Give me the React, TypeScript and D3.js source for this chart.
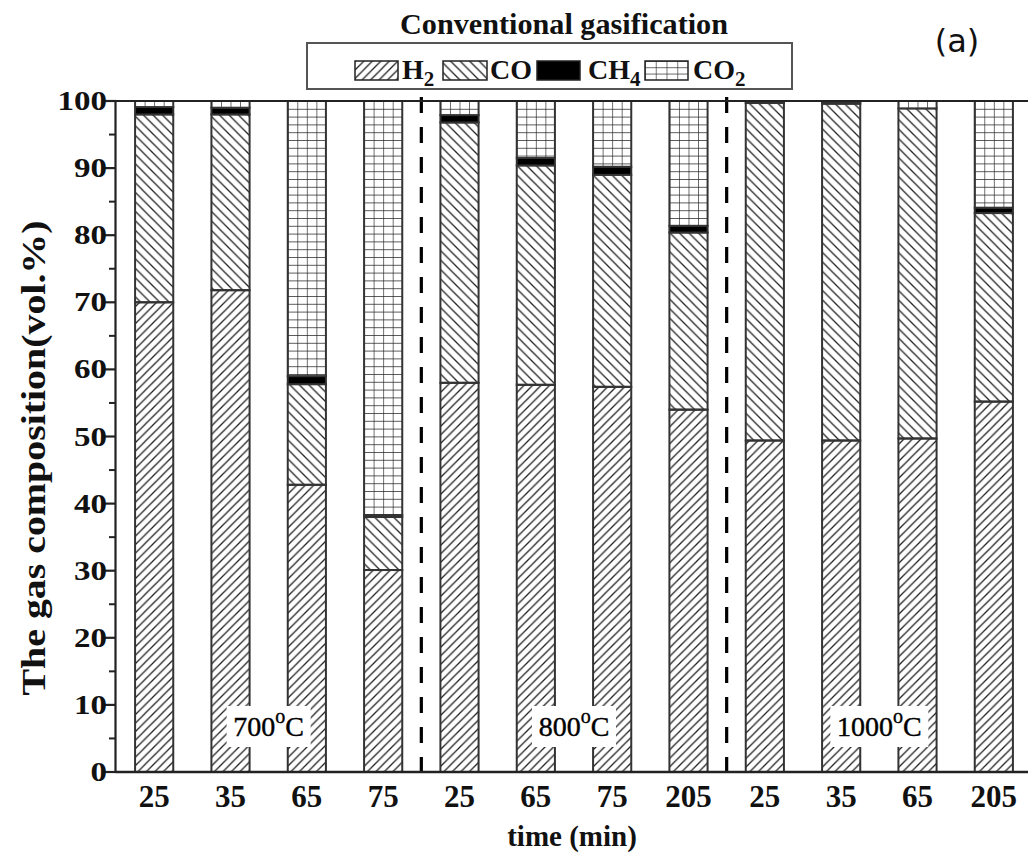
import React from 'react';
import * as d3 from 'd3';

// gas composition (vol.%), bottom to top
const times = ['25', '35', '65', '75', '25', '65', '75', '205', '25', '35', '65', '205'];
const h2 = [70.0, 71.8, 42.8, 30.1, 58.0, 57.7, 57.4, 54.0, 49.4, 49.4, 49.7, 55.2];
const co = [28.0, 26.2, 15.0, 7.9, 38.8, 32.7, 31.6, 26.4, 50.3, 50.2, 49.2, 28.1];
const ch4 = [1.1, 1.0, 1.2, 0.3, 1.1, 1.1, 1.2, 1.0, 0.0, 0.2, 0.0, 0.8];
const co2 = [0.9, 1.0, 41.0, 61.7, 2.1, 8.5, 9.8, 18.6, 0.3, 0.2, 1.1, 15.9];
const temps = ['700', '800', '1000'];
const groupSize = 4;
const yTicks = [0, 10, 20, 30, 40, 50, 60, 70, 80, 90, 100];

const keys = ['h2', 'co', 'ch4', 'co2'];
const fills: Record<string, string> = {
  h2: 'url(#pat-h2)',
  co: 'url(#pat-co)',
  ch4: '#000',
  co2: 'url(#pat-co2)',
};

const W = 1028;
const H = 859;
const left = 116;
const top = 101;
const bottom = 772;
const serif = '"Liberation Serif", "Times New Roman", serif';

export default function App() {
  const rows = times.map((t, i) => ({ i, h2: h2[i], co: co[i], ch4: ch4[i], co2: co2[i] }));
  const stacked = d3.stack<any>().keys(keys)(rows);

  const x = d3.scaleBand<number>()
    .domain(d3.range(times.length))
    .range([left, 1032])
    .paddingInner(0.5)
    .paddingOuter(0.25);
  const y = d3.scaleLinear().domain([0, 100]).range([bottom, top]);
  const bw = x.bandwidth();
  const center = (i: number) => (x(i) as number) + bw / 2;
  const minor = d3.range(5, 100, 10);
  const gridW = bw / 4;
  const x0 = x(0) as number;

  return (
    <div style={{ position: 'absolute', left: 0, top: 0 }}>
      <svg width={W} height={H} style={{ display: 'block', background: '#fff' }}>
        <defs>
          <pattern id="pat-h2" patternUnits="userSpaceOnUse" width={8.5} height={8.5}>
            <path d="M-2,2 L2,-2 M0,8.5 L8.5,0 M6.5,10.5 L10.5,6.5" stroke="#222" strokeWidth={1.3} />
          </pattern>
          <pattern id="pat-co" patternUnits="userSpaceOnUse" width={9.5} height={9.5}>
            <path d="M-2,7.5 L2,11.5 M0,0 L9.5,9.5 M7.5,-2 L11.5,2" stroke="#222" strokeWidth={1.3} />
          </pattern>
          <pattern id="pat-co2" patternUnits="userSpaceOnUse" x={x0} y={top} width={gridW} height={7.8}>
            <rect width={gridW} height={7.8} fill="#fff" />
            <path d={`M0,0 H${gridW} M0,0 V7.8`} stroke="#222" strokeWidth={1.3} />
          </pattern>
          <pattern id="pat-co2-leg" patternUnits="userSpaceOnUse" x={645} y={61} width={10.75} height={6.3}>
            <path d="M0,0 H10.75 M0,0 V6.3" stroke="#222" strokeWidth={1.2} />
          </pattern>
        </defs>

        {/* bars */}
        {stacked.map((s) => (
          <g key={s.key}>
            {s.map((d, i) => {
              const h = y(d[0]) - y(d[1]);
              if (h <= 0) return null;
              return (
                <rect key={i} x={x(i)} y={y(d[1])} width={bw} height={h}
                  fill={fills[s.key]} stroke="#333" strokeWidth={2} />
              );
            })}
          </g>
        ))}

        {/* group separators */}
        {d3.range(1, temps.length).map((g) => {
          const sx = (center(g * groupSize - 1) + center(g * groupSize)) / 2;
          return (
            <line key={g} x1={sx} x2={sx} y1={97} y2={bottom} stroke="#000" strokeWidth={3.2}
              strokeDasharray="16,14" />
          );
        })}

        {/* temperature labels */}
        {temps.map((t, g) => {
          const cx = (center(g * groupSize + 1) + center(g * groupSize + 2)) / 2;
          const tw = t.length * 14 + 36;
          return (
            <g key={t} transform={`translate(${cx},0)`}>
              <rect x={-tw / 2 - 3} y={706} width={tw + 6} height={41} fill="#fff" />
              <text x={0} y={736} textAnchor="middle" fontFamily={serif} fontSize={28} fill="#000"
                stroke="#000" strokeWidth={0.4}>
                {t}
                <tspan dy={-13} fontSize={20}>o</tspan>
                <tspan dy={13}>C</tspan>
              </text>
            </g>
          );
        })}

        {/* frame / axes */}
        <line x1={left - 0.5} x2={1032} y1={top} y2={top} stroke="#222" strokeWidth={2.2} />
        <line x1={left - 0.5} x2={1032} y1={bottom} y2={bottom} stroke="#222" strokeWidth={2.6} />
        <line x1={left - 0.5} x2={left - 0.5} y1={top} y2={bottom} stroke="#222" strokeWidth={2.2} />
        {yTicks.map((t) => (
          <g key={t}>
            <line x1={left - 13} x2={left} y1={y(t)} y2={y(t)} stroke="#222" strokeWidth={2.2} />
            <text x={107} y={y(t) + 9} textAnchor="end" fontFamily={serif} fontWeight="bold"
              fontSize={28} fill="#111" textLength={String(t).length * 16.5}
              lengthAdjust="spacingAndGlyphs">{t}</text>
          </g>
        ))}
        {minor.map((t) => (
          <line key={t} x1={left - 7} x2={left} y1={y(t)} y2={y(t)} stroke="#222" strokeWidth={2} />
        ))}
        {times.map((t, i) => (
          <text key={i} x={center(i)} y={807} textAnchor="middle" fontFamily={serif} fontWeight="bold"
            fontSize={31} fill="#111">{t}</text>
        ))}

        {/* axis titles */}
        <text x={572} y={846} textAnchor="middle" fontFamily={serif} fontWeight="bold" fontSize={29}
          fill="#111">time (min)</text>
        <text transform="translate(45,458) rotate(-90)" textAnchor="middle" fontFamily={serif}
          fontWeight="bold" fontSize={33} fill="#111" textLength={475} lengthAdjust="spacingAndGlyphs">
          The gas composition(vol.%)</text>

        {/* title + legend */}
        <text x={564} y={34} textAnchor="middle" fontFamily={serif} fontWeight="bold" fontSize={30}
          fill="#111" textLength={328} lengthAdjust="spacingAndGlyphs">Conventional gasification</text>
        <text x={957} y={52} textAnchor="middle" fontFamily="DejaVu Sans, sans-serif" fontSize={32}
          fill="#111">(a)</text>
        <rect x={307} y={43} width={485} height={46} fill="#fff" stroke="#555" strokeWidth={2} />
        <rect x={355} y={61} width={43} height={19} fill="url(#pat-h2)" stroke="#222" strokeWidth={1.5} />
        <text x={402} y={79} fontFamily={serif} fontWeight="bold" fontSize={28} fill="#111">
          H<tspan dy={7} fontSize={21}>2</tspan>
        </text>
        <rect x={443} y={61} width={44} height={19} fill="url(#pat-co)" stroke="#222" strokeWidth={1.5} />
        <text x={490} y={79} fontFamily={serif} fontWeight="bold" fontSize={28} fill="#111">CO</text>
        <rect x={537} y={61} width={43} height={19} fill="#000" stroke="#222" strokeWidth={1.5} />
        <text x={588} y={79} fontFamily={serif} fontWeight="bold" fontSize={28} fill="#111">
          CH<tspan dy={7} fontSize={21}>4</tspan>
        </text>
        <rect x={645} y={61} width={43} height={19} fill="url(#pat-co2-leg)" stroke="#222" strokeWidth={1.5} />
        <text x={693} y={79} fontFamily={serif} fontWeight="bold" fontSize={28} fill="#111">
          CO<tspan dy={7} fontSize={21}>2</tspan>
        </text>
      </svg>
    </div>
  );
}
